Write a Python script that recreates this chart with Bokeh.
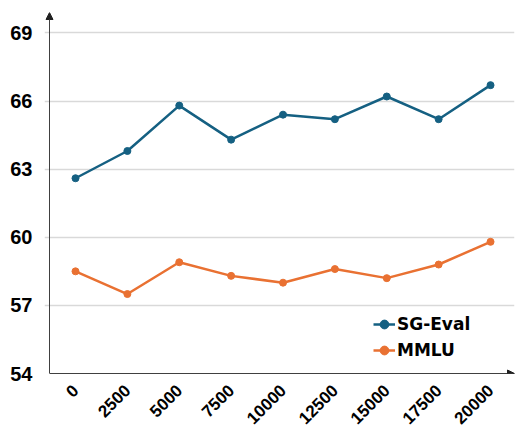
import math
from bokeh.plotting import figure
from bokeh.models import (FixedTicker, Legend, LegendItem, Arrow, NormalHead,
                          Range1d)
from bokeh.embed import file_html
from bokeh.resources import INLINE

steps = [0, 2500, 5000, 7500, 10000, 12500, 15000, 17500, 20000]
step_labels = ["0", "2500", "5000", "7500", "10000", "12500", "15000", "17500", "20000"]
sg_eval = [62.6, 63.8, 65.8, 64.3, 65.4, 65.2, 66.2, 65.2, 66.7]
mmlu = [58.5, 57.5, 58.9, 58.3, 58.0, 58.6, 58.2, 58.8, 59.8]
y_ticks = [54, 57, 60, 63, 66, 69]

BLUE = "#156082"
ORANGE = "#E97132"
AXIS = "#404040"

# axis geometry (data units)
x_axis_pos = -1253          # where the vertical axis sits
x_start, x_end = -1494, 21155
y_start, y_end = 54, 69.9

p = figure(width=516, height=432, output_backend="svg", toolbar_location=None,
           x_range=Range1d(x_start, x_end), y_range=Range1d(y_start, y_end),
           min_border_left=44, min_border_right=2, min_border_top=12,
           min_border_bottom=57)
p.outline_line_color = None
p.background_fill_color = "white"

p.xgrid.visible = False
p.ygrid.grid_line_color = "#d9d9d9"
p.ygrid.grid_line_width = 1.5
p.ygrid.bounds = (x_axis_pos, x_end)

p.xaxis.ticker = FixedTicker(ticks=steps)
p.xaxis.major_label_overrides = {s: l for s, l in zip(steps, step_labels)}
p.xaxis.major_label_orientation = math.pi / 4
p.xaxis.major_tick_line_color = None
p.xaxis.minor_tick_line_color = None
p.xaxis.major_label_text_font = "Liberation Sans"
p.xaxis.major_label_text_font_style = "bold"
p.xaxis.major_label_text_font_size = "17px"
p.xaxis.major_label_text_color = "black"
p.xaxis.major_label_standoff = 8
p.xaxis.axis_line_color = AXIS
p.xaxis.bounds = (x_axis_pos, x_end)

p.yaxis.ticker = FixedTicker(ticks=y_ticks)
p.yaxis.major_tick_line_color = None
p.yaxis.minor_tick_line_color = None
p.yaxis.major_label_text_font = "Liberation Sans"
p.yaxis.major_label_text_font_style = "bold"
p.yaxis.major_label_text_font_size = "20px"
p.yaxis.major_label_text_color = "black"
p.yaxis.major_label_standoff = 6
p.yaxis.axis_line_color = None

l1 = p.line(steps, sg_eval, line_color=BLUE, line_width=2.5)
c1 = p.scatter(steps, sg_eval, size=7, fill_color=BLUE, line_color=BLUE)
l2 = p.line(steps, mmlu, line_color=ORANGE, line_width=2.5)
c2 = p.scatter(steps, mmlu, size=7, fill_color=ORANGE, line_color=ORANGE)

# vertical axis line with arrow head
p.add_layout(Arrow(x_start=x_axis_pos, y_start=y_start, x_end=x_axis_pos, y_end=y_end,
                   line_color=AXIS, line_width=1,
                   end=NormalHead(size=7, fill_color="#202020", line_color="#202020")))
# arrow head at the end of the horizontal axis
p.add_layout(Arrow(x_start=x_axis_pos, y_start=y_start, x_end=x_end, y_end=y_start,
                   line_alpha=0,
                   end=NormalHead(size=7, fill_color="#202020", line_color="#202020")))

legend = Legend(items=[LegendItem(label="SG-Eval", renderers=[l1, c1]),
                       LegendItem(label="MMLU", renderers=[l2, c2])],
                location=(329, 10), orientation="vertical")
legend.border_line_color = None
legend.background_fill_alpha = 0
legend.padding = 0
legend.margin = 0
legend.spacing = 0
legend.glyph_width = 22
legend.glyph_height = 26
legend.label_height = 26
legend.label_standoff = 2
legend.label_text_font = "DejaVu Sans"
legend.label_text_font_style = "bold"
legend.label_text_font_size = "17px"
legend.label_text_color = "black"
p.add_layout(legend)

open("out.html", "w").write(file_html(p, INLINE))
